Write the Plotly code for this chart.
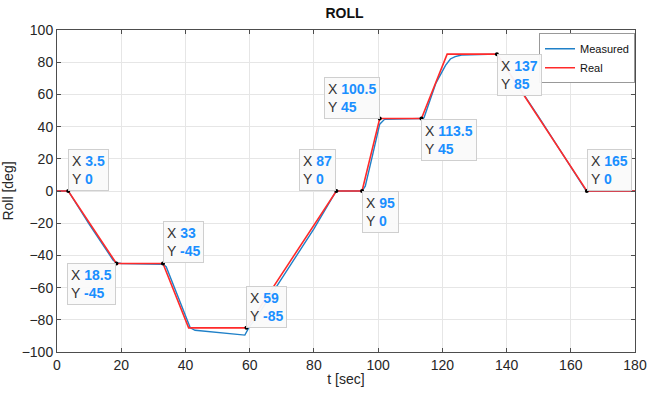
import plotly.graph_objects as go

# Real trajectory
real_t = [0, 3.5, 18.5, 33, 41, 59, 87, 95, 100.5, 113.5, 121.5, 137, 165, 180]
real_y = [0, 0, -45, -45, -85, -85, 0, 0, 45, 45, 85, 85, 0, 0]

# Measured trajectory
meas_t = [0, 3.5, 10, 17.5, 18.5, 20, 33, 34, 41.5, 43, 58.5, 59, 60, 62, 70, 80, 86.5, 87, 95, 96,
          98, 99.5, 100.5, 102, 113.5, 114.3, 118, 121, 122.5, 124, 126, 137, 150, 164.5, 165, 180]
meas_y = [0, 0, -20.5, -43, -44.5, -45, -45.5, -47, -85, -86.5, -89.5, -87.5, -84, -79, -54, -23.5, -1.5, 0, 0, 3,
          20, 33.5, 41.5, 44.5, 45, 45.5, 67, 78, 82, 83.5, 84.5, 85, 46, 1, 0, 0]

# Data tips
tip_x = [3.5, 18.5, 33, 59, 87, 95, 100.5, 113.5, 137, 165]
tip_y = [0, -45, -45, -85, 0, 0, 45, 45, 85, 0]
tip_xlabel = ["3.5", "18.5", "33", "59", "87", "95", "100.5", "113.5", "137", "165"]
tip_ylabel = ["0", "-45", "-45", "-85", "0", "0", "45", "45", "85", "0"]
tip_pos = ["ur", "dl", "ur", "ur", "ul", "dr", "ul", "dr", "dr", "ur"]

fig = go.Figure()
fig.add_trace(go.Scatter(x=meas_t, y=meas_y, mode="lines", name="Measured",
                         line=dict(color="#1f80c8", width=1.4)))
fig.add_trace(go.Scatter(x=real_t, y=real_y, mode="lines", name="Real",
                         line=dict(color="#ff2a2a", width=1.6)))
fig.add_trace(go.Scatter(x=tip_x, y=tip_y, mode="markers", showlegend=False,
                         marker=dict(color="black", size=4)))

val_color = "#1a8fff"
for x, y, xl, yl, p in zip(tip_x, tip_y, tip_xlabel, tip_ylabel, tip_pos):
    txt = (f"X <span style='color:{val_color}'><b>{xl}</b></span><br>"
           f"Y <span style='color:{val_color}'><b>{yl}</b></span>")
    fig.add_annotation(x=x, y=y, text=txt, showarrow=False, align="left",
                       xanchor="left" if p[1] == "r" else "right",
                       yanchor="bottom" if p[0] == "u" else "top",
                       bgcolor="rgba(250,250,250,0.95)", bordercolor="#cfcfcf",
                       borderwidth=1, borderpad=3,
                       font=dict(family="Liberation Sans, Arial", size=14, color="#333333"))

axis_common = dict(showgrid=True, gridcolor="#e6e6e6", gridwidth=1, zeroline=False,
                   showline=True, linecolor="#4d4d4d", linewidth=1, mirror="ticks",
                   ticks="inside", ticklen=4, tickcolor="#4d4d4d", automargin=False,
                   tickfont=dict(family="Liberation Sans, Arial", size=14, color="#262626"))

fig.update_layout(
    width=650, height=393,
    margin=dict(l=57, r=15, t=30, b=41),
    paper_bgcolor="white", plot_bgcolor="white",
    title=dict(text="<b>ROLL</b>", x=0.53, xanchor="center", y=0.978, yanchor="top",
               font=dict(family="Liberation Sans, Arial", size=14, color="#111111")),
    xaxis=dict(range=[0, 180], dtick=20, title=dict(text="t [sec]", standoff=2,
               font=dict(family="Liberation Sans, Arial", size=14, color="#262626")), **axis_common),
    yaxis=dict(range=[-100, 100], dtick=20, title=dict(text="Roll [deg]", standoff=4,
               font=dict(family="Liberation Sans, Arial", size=14, color="#262626")), **axis_common),
    legend=dict(x=1, y=0.99, xanchor="right", yanchor="top", bgcolor="white",
                bordercolor="#999999", borderwidth=1, itemwidth=30,
                font=dict(family="Liberation Sans, Arial", size=11, color="#111111"),
                tracegroupgap=0),
    showlegend=True,
)

fig.write_html("out.html")
